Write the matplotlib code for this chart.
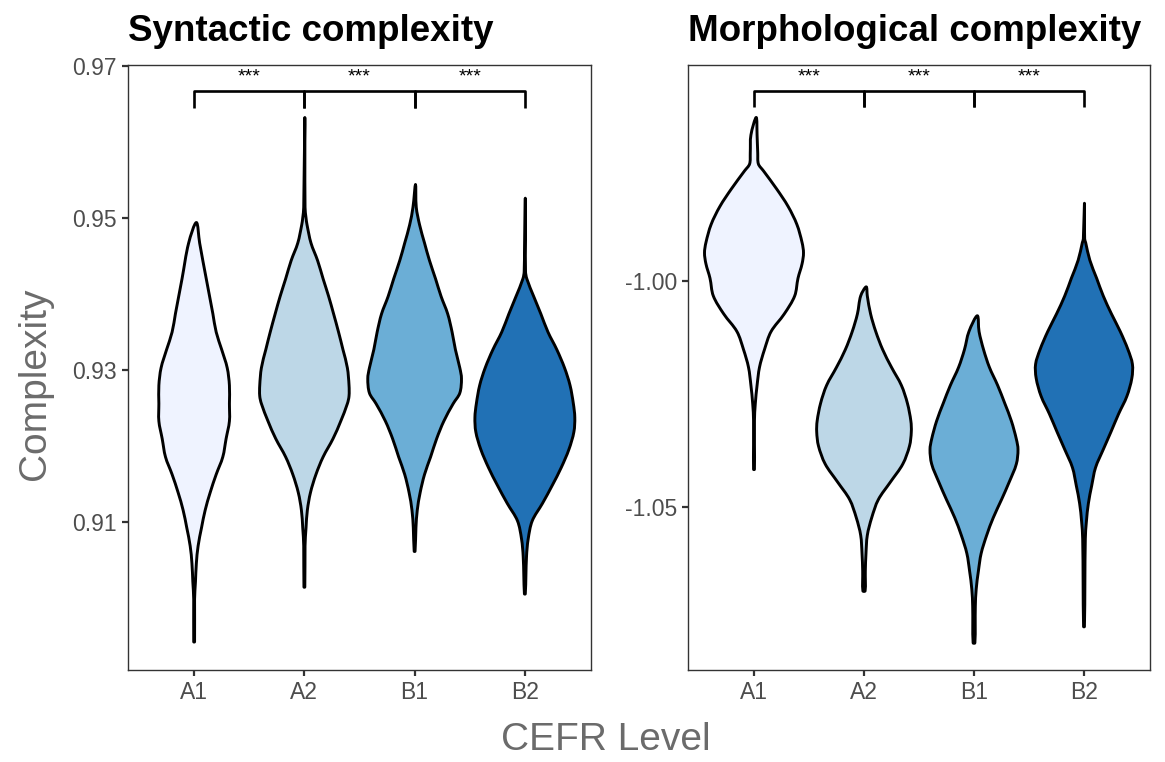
import numpy as np
import matplotlib
matplotlib.use('Agg')
import matplotlib.pyplot as plt
from matplotlib.path import Path
from matplotlib.patches import PathPatch

plt.rcParams['font.family'] = ['Liberation Sans', 'DejaVu Sans']

LEVELS = ['A1', 'A2', 'B1', 'B2']
FILLS = ['#EFF3FF', '#BDD7E7', '#6BAED6', '#2171B5']

# violin outlines: y value and half width (category units)
SYN_A1_Y = [0.9494, 0.9467, 0.9420, 0.9374, 0.9350, 0.9327, 0.9303, 0.9280, 0.9256, 0.9233, 0.9210,
            0.9186, 0.9163, 0.9139, 0.9116, 0.9093, 0.9069, 0.9046, 0.9022, 0.8999, 0.8943]
SYN_A1_W = [0.02, 0.05, 0.11, 0.17, 0.20, 0.25, 0.30, 0.32, 0.32, 0.32, 0.29,
            0.26, 0.20, 0.145, 0.10, 0.067, 0.036, 0.02, 0.012, 0.004, 0.004]
SYN_A2_Y = [0.9632, 0.9514, 0.9500, 0.9491, 0.9467, 0.9444, 0.9420, 0.9397, 0.9374, 0.9350, 0.9327, 0.9303,
            0.9280, 0.9266, 0.9256, 0.9233, 0.9210, 0.9186, 0.9163, 0.9139, 0.9116, 0.9093, 0.9069, 0.9015]
SYN_A2_W = [0.004, 0.006, 0.015, 0.024, 0.06, 0.12, 0.17, 0.22, 0.265, 0.31, 0.35, 0.39,
            0.405, 0.405, 0.39, 0.33, 0.26, 0.17, 0.105, 0.055, 0.027, 0.015, 0.006, 0.004]
SYN_B1_Y = [0.9544, 0.9514, 0.9491, 0.9467, 0.9444, 0.9420, 0.9397, 0.9374, 0.9350, 0.9327, 0.9303,
            0.9289, 0.9270, 0.9256, 0.9233, 0.9210, 0.9186, 0.9163, 0.9139, 0.9116, 0.9093, 0.9062]
SYN_B1_W = [0.008, 0.015, 0.045, 0.09, 0.135, 0.19, 0.24, 0.30, 0.34, 0.37, 0.41,
            0.425, 0.41, 0.35, 0.265, 0.20, 0.145, 0.09, 0.05, 0.024, 0.012, 0.004]
SYN_B2_Y = [0.9526, 0.9430, 0.9420, 0.9397, 0.9374, 0.9350, 0.9327, 0.9303, 0.9280, 0.9256,
            0.9238, 0.9219, 0.9196, 0.9172, 0.9149, 0.9125, 0.9102, 0.9078, 0.9055, 0.9006]
SYN_B2_W = [0.004, 0.006, 0.018, 0.08, 0.145, 0.21, 0.29, 0.36, 0.41, 0.44,
            0.453, 0.445, 0.40, 0.33, 0.25, 0.16, 0.067, 0.03, 0.015, 0.004]

MOR_A1_Y = [-0.9638, -0.9677, -0.9717, -0.9741, -0.9756, -0.9796, -0.9835, -0.9875, -0.9915, -0.9938, -0.9962,
            -0.9994, -1.0033, -1.0073, -1.0112, -1.0152, -1.0191, -1.0231, -1.0271, -1.0310, -1.0417]
MOR_A1_W = [0.02, 0.028, 0.034, 0.04, 0.085, 0.205, 0.31, 0.39, 0.437, 0.45, 0.437,
            0.40, 0.37, 0.275, 0.155, 0.095, 0.05, 0.028, 0.012, 0.004, 0.004]
MOR_A2_Y = [-1.0013, -1.0033, -1.0073, -1.0112, -1.0152, -1.0191, -1.0231, -1.0271, -1.0310, -1.0334,
            -1.0365, -1.0405, -1.0445, -1.0484, -1.0524, -1.0563, -1.0603, -1.0642, -1.0686]
MOR_A2_W = [0.02, 0.03, 0.06, 0.107, 0.17, 0.25, 0.34, 0.395, 0.426, 0.43,
            0.414, 0.353, 0.24, 0.13, 0.07, 0.03, 0.018, 0.012, 0.01]
MOR_B1_Y = [-1.0077, -1.0112, -1.0152, -1.0191, -1.0231, -1.0271, -1.0310, -1.0350, -1.0373, -1.0405,
            -1.0445, -1.0484, -1.0524, -1.0563, -1.0603, -1.0642, -1.0682, -1.0721, -1.0801]
MOR_B1_W = [0.03, 0.046, 0.087, 0.14, 0.215, 0.28, 0.34, 0.385, 0.40, 0.385,
            0.32, 0.25, 0.175, 0.115, 0.065, 0.04, 0.02, 0.012, 0.008]
MOR_B2_Y = [-0.9828, -0.9907, -0.9915, -0.9954, -0.9994, -1.0033, -1.0073, -1.0112, -1.0152, -1.0184, -1.0215,
            -1.0255, -1.0294, -1.0334, -1.0373, -1.0413, -1.0453, -1.0492, -1.0532, -1.0571, -1.0765]
MOR_B2_W = [0.004, 0.006, 0.015, 0.053, 0.115, 0.175, 0.25, 0.33, 0.40, 0.44, 0.435,
            0.39, 0.315, 0.245, 0.175, 0.105, 0.07, 0.04, 0.022, 0.012, 0.004]

SYN_TICKS = [0.91, 0.93, 0.95, 0.97]
SYN_TICK_LABELS = ['0.91', '0.93', '0.95', '0.97']
MOR_TICKS = [-1.05, -1.00]
MOR_TICK_LABELS = ['-1.05', '-1.00']

# pairwise comparisons shown by the brackets
PAIRS = [(1, 2), (2, 3), (3, 4)]
SIG_LABELS = ['***', '***', '***']


def violin_path(pos, ys, ws, yscale):
    """Closed smooth outline through the read points (chord-scaled Catmull-Rom)"""
    ys = np.array(ys)
    ws = np.array(ws)
    # right side bottom -> top, then left side just below top -> bottom
    xs = np.concatenate([pos + ws[::-1], pos - ws[1:]])
    yy = np.concatenate([ys[::-1], ys[1:]])
    pts = np.column_stack([xs, yy])
    n = len(pts)

    def dist(a, b):
        return np.hypot(a[0] - b[0], (a[1] - b[1]) * yscale) + 1e-9

    verts = [pts[0]]
    codes = [Path.MOVETO]
    for i in range(n):
        p0 = pts[(i - 1) % n]
        p1 = pts[i]
        p2 = pts[(i + 1) % n]
        p3 = pts[(i + 2) % n]
        d01, d12, d23 = dist(p0, p1), dist(p1, p2), dist(p2, p3)
        c1 = p1 + (p2 - p0) * d12 / (3.0 * (d01 + d12))
        c2 = p2 - (p3 - p1) * d12 / (3.0 * (d12 + d23))
        verts += [c1, c2, p2]
        codes += [Path.CURVE4] * 3
    verts.append(pts[0])
    codes.append(Path.CLOSEPOLY)
    return Path(verts, codes)


def draw_panel(ax, title, profiles, ylim, ticks, tick_labels, bar_y, tip_y, star_y):
    # pixels per y unit over pixels per category unit
    yscale = (605 / (ylim[1] - ylim[0])) / (463 / 4.2)
    for i, (ys, ws) in enumerate(profiles):
        patch = PathPatch(violin_path(i + 1, ys, ws, yscale), facecolor=FILLS[i], edgecolor='black',
                          linewidth=2.1, joinstyle='round', zorder=2)
        ax.add_patch(patch)

    for (a, b), lab in zip(PAIRS, SIG_LABELS):
        ax.plot([a, a, b, b], [tip_y, bar_y, bar_y, tip_y], color='black',
                linewidth=1.9, solid_capstyle='butt', zorder=3)
        ax.text((a + b) / 2, star_y, lab, ha='center', va='center', fontsize=14, color='black')

    ax.set_xlim(0.4, 4.6)
    ax.set_ylim(*ylim)
    ax.set_xticks(range(1, 5))
    ax.set_xticklabels(LEVELS)
    ax.set_yticks(ticks)
    ax.set_yticklabels(tick_labels)
    ax.tick_params(axis='both', length=4, width=1.6, color='#333333',
                   labelsize=16.5, labelcolor='#4D4D4D', pad=4)
    for sp in ax.spines.values():
        sp.set_color('#333333')
        sp.set_linewidth(1.0)
    ax.set_title(title, loc='left', fontsize=26.5, fontweight='bold', pad=17, color='black')


fig = plt.figure(figsize=(11.65, 7.62), dpi=100)
ax1 = fig.add_axes([128 / 1165, 1 - 670 / 762, 463 / 1165, 605 / 762])
ax2 = fig.add_axes([688 / 1165, 1 - 670 / 762, 462 / 1165, 605 / 762])

draw_panel(ax1, 'Syntactic complexity',
           [(SYN_A1_Y, SYN_A1_W), (SYN_A2_Y, SYN_A2_W), (SYN_B1_Y, SYN_B1_W), (SYN_B2_Y, SYN_B2_W)],
           (0.8906, 0.9701), SYN_TICKS, SYN_TICK_LABELS, 0.9667, 0.9644, 0.9685)
draw_panel(ax2, 'Morphological complexity',
           [(MOR_A1_Y, MOR_A1_W), (MOR_A2_Y, MOR_A2_W), (MOR_B1_Y, MOR_B1_W), (MOR_B2_Y, MOR_B2_W)],
           (-1.0861, -0.9522), MOR_TICKS, MOR_TICK_LABELS, -0.9580, -0.9616, -0.9548)

fig.text(35 / 1165, 1 - 384 / 762, 'Complexity', rotation=90, ha='center', va='center',
         fontsize=28, color='#6B6B6B')
fig.text(606 / 1165, 1 - 740 / 762, 'CEFR Level', ha='center', va='center',
         fontsize=28, color='#6B6B6B')

fig.savefig('out.png', dpi=100, facecolor='white')
